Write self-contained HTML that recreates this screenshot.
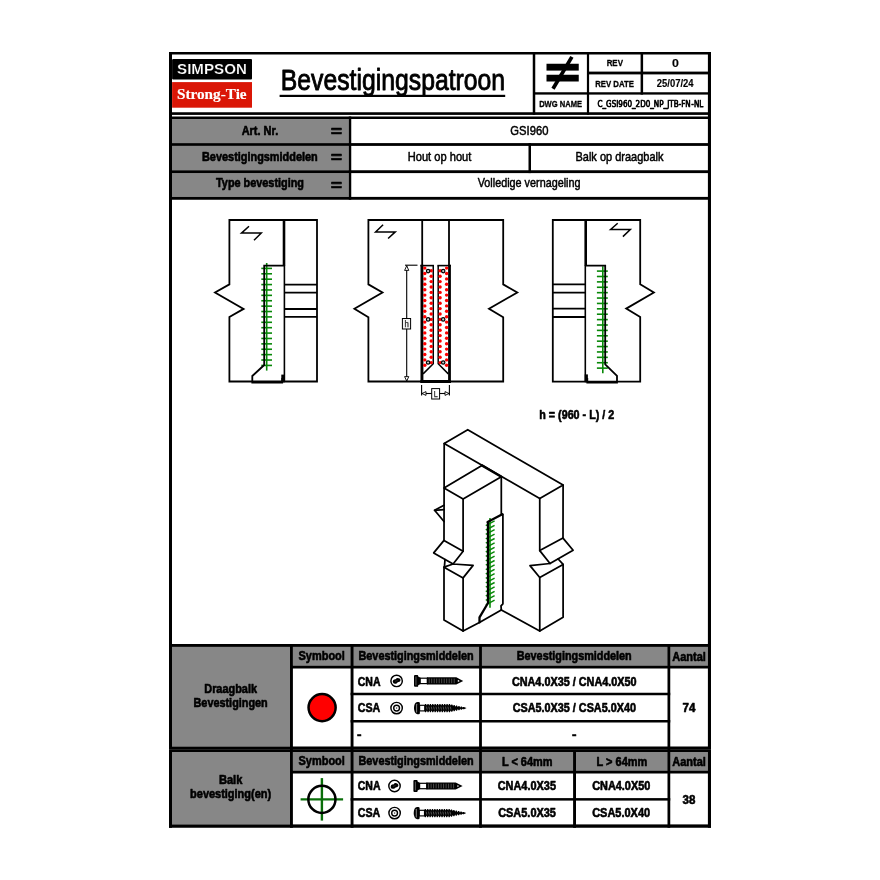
<!DOCTYPE html>
<html lang="nl"><head><meta charset="utf-8"><title>Bevestigingspatroon</title>
<style>html,body{margin:0;padding:0;background:#fff}svg{display:block}text{white-space:pre}</style>
</head><body>
<svg width="880" height="880" viewBox="0 0 880 880">
<defs><filter id="soft" color-interpolation-filters="sRGB" x="0" y="0" width="880" height="880" filterUnits="userSpaceOnUse"><feGaussianBlur stdDeviation="0.45"/></filter></defs>
<rect width="880" height="880" fill="#fff"/>
<g filter="url(#soft)">
<rect x="172.00" y="119.00" width="176.75" height="24.10" fill="#878787"/>
<rect x="172.00" y="146.00" width="176.75" height="24.25" fill="#878787"/>
<rect x="172.00" y="173.10" width="176.75" height="23.80" fill="#878787"/>
<rect x="172.00" y="646.90" width="118.00" height="99.60" fill="#878787"/>
<rect x="172.00" y="752.00" width="118.00" height="72.40" fill="#878787"/>
<rect x="292.90" y="646.90" width="415.00" height="18.70" fill="#878787"/>
<rect x="292.90" y="752.00" width="415.00" height="18.60" fill="#878787"/>
<rect x="169.00" y="52.00" width="542.00" height="2.50" fill="#000"/>
<rect x="169.00" y="52.00" width="3.00" height="775.75" fill="#000"/>
<rect x="707.90" y="52.00" width="3.10" height="775.75" fill="#000"/>
<rect x="169.00" y="824.40" width="542.00" height="3.35" fill="#000"/>
<rect x="169.00" y="112.25" width="542.00" height="2.65" fill="#000"/>
<rect x="169.00" y="116.50" width="542.00" height="2.50" fill="#000"/>
<rect x="169.00" y="143.10" width="542.00" height="2.80" fill="#000"/>
<rect x="169.00" y="170.25" width="542.00" height="2.85" fill="#000"/>
<rect x="169.00" y="196.90" width="542.00" height="2.85" fill="#000"/>
<rect x="532.75" y="52.00" width="2.50" height="62.90" fill="#000"/>
<rect x="586.90" y="52.00" width="2.20" height="62.90" fill="#000"/>
<rect x="640.60" y="52.00" width="2.50" height="42.60" fill="#000"/>
<rect x="589.00" y="71.60" width="122.00" height="2.80" fill="#000"/>
<rect x="535.00" y="92.25" width="176.00" height="2.35" fill="#000"/>
<rect x="348.75" y="116.50" width="2.50" height="83.25" fill="#000"/>
<rect x="528.50" y="143.10" width="2.50" height="30.00" fill="#000"/>
<rect x="169.00" y="644.00" width="542.00" height="2.90" fill="#000"/>
<rect x="290.00" y="665.60" width="421.00" height="2.90" fill="#000"/>
<rect x="350.60" y="692.75" width="319.65" height="2.50" fill="#000"/>
<rect x="350.60" y="720.00" width="319.65" height="2.50" fill="#000"/>
<rect x="169.00" y="746.50" width="542.00" height="5.50" fill="#000"/>
<rect x="169.00" y="749.00" width="542.00" height="0.60" fill="#3a3a3a"/>
<rect x="290.00" y="770.60" width="421.00" height="2.90" fill="#000"/>
<rect x="350.60" y="798.10" width="319.65" height="2.50" fill="#000"/>
<rect x="290.00" y="644.00" width="2.90" height="183.75" fill="#000"/>
<rect x="350.60" y="644.00" width="2.90" height="183.75" fill="#000"/>
<rect x="479.10" y="644.00" width="2.80" height="183.75" fill="#000"/>
<rect x="667.50" y="644.00" width="2.75" height="183.75" fill="#000"/>
<rect x="573.10" y="752.00" width="2.90" height="75.75" fill="#000"/>
<rect x="172.1" y="58.9" width="79.9" height="20.7" rx="1" fill="#000"/>
<rect x="172.10" y="82.10" width="79.90" height="25.60" fill="#da1606"/>
<text x="177.08" y="74.40" font-size="14.4" font-weight="bold" font-family="'Liberation Sans', sans-serif" fill="#fff" stroke="#000" stroke-width="0.2" stroke-linejoin="round" textLength="69.74" lengthAdjust="spacingAndGlyphs">SIMPSON</text>
<text x="176.96" y="99.00" font-size="14.6" font-weight="bold" font-family="'Liberation Serif', sans-serif" fill="#fff" stroke="#fff" stroke-width="0.15" stroke-linejoin="round" textLength="69.68" lengthAdjust="spacingAndGlyphs">Strong-Tie</text>
<text x="280.76" y="90.20" font-size="29.9" font-weight="normal" font-family="'Liberation Sans', sans-serif" fill="#000" stroke="#000" stroke-width="0.9" stroke-linejoin="round" textLength="224.39" lengthAdjust="spacingAndGlyphs">Bevestigingspatroon</text>
<rect x="279.60" y="94.80" width="225.60" height="2.20" fill="#000"/>
<rect x="546.50" y="63.75" width="32.25" height="6.85" fill="#000"/>
<rect x="546.50" y="74.75" width="32.25" height="6.75" fill="#000"/>
<line x1="571.90" y1="56.90" x2="553.00" y2="88.75" stroke="#000" stroke-width="3.7" stroke-linecap="butt"/>
<text x="606.65" y="66.30" font-size="9" font-weight="bold" font-family="'Liberation Sans', sans-serif" fill="#000" stroke="#000" stroke-width="0.3" stroke-linejoin="round" textLength="16.30" lengthAdjust="spacingAndGlyphs">REV</text>
<text x="595.15" y="87.20" font-size="9" font-weight="bold" font-family="'Liberation Sans', sans-serif" fill="#000" stroke="#000" stroke-width="0.3" stroke-linejoin="round" textLength="38.80" lengthAdjust="spacingAndGlyphs">REV DATE</text>
<text x="539.13" y="107.00" font-size="9" font-weight="bold" font-family="'Liberation Sans', sans-serif" fill="#000" stroke="#000" stroke-width="0.3" stroke-linejoin="round" textLength="42.94" lengthAdjust="spacingAndGlyphs">DWG NAME</text>
<text x="672.06" y="67.20" font-size="11" font-weight="bold" font-family="'Liberation Sans', sans-serif" fill="#000" stroke="#000" stroke-width="0.15" stroke-linejoin="round" textLength="6.88" lengthAdjust="spacingAndGlyphs">0</text>
<text x="656.81" y="87.20" font-size="11" font-weight="bold" font-family="'Liberation Sans', sans-serif" fill="#000" stroke="#000" stroke-width="0.15" stroke-linejoin="round" textLength="36.73" lengthAdjust="spacingAndGlyphs">25/07/24</text>
<text x="597.50" y="106.60" font-size="8.4" font-weight="normal" font-family="'DejaVu Sans', sans-serif" fill="#000" stroke="#000" stroke-width="0.7" stroke-linejoin="round" textLength="93.15" lengthAdjust="spacingAndGlyphs">C_GSI960_2D0_NP_JTB-FN</text>
<text x="691.32" y="107.30" font-size="9.2" font-weight="normal" font-family="'DejaVu Sans', sans-serif" fill="#000" stroke="#000" stroke-width="0.75" stroke-linejoin="round" textLength="11.95" lengthAdjust="spacingAndGlyphs">-NL</text>
<text x="241.65" y="135.40" font-size="12.3" font-weight="bold" font-family="'Liberation Sans', sans-serif" fill="#000" stroke="#000" stroke-width="0.6" stroke-linejoin="round" textLength="36.59" lengthAdjust="spacingAndGlyphs">Art. Nr.</text>
<text x="202.01" y="161.30" font-size="12.3" font-weight="bold" font-family="'Liberation Sans', sans-serif" fill="#000" stroke="#000" stroke-width="0.6" stroke-linejoin="round" textLength="115.73" lengthAdjust="spacingAndGlyphs">Bevestigingsmiddelen</text>
<text x="216.00" y="187.40" font-size="12.3" font-weight="bold" font-family="'Liberation Sans', sans-serif" fill="#000" stroke="#000" stroke-width="0.6" stroke-linejoin="round" textLength="87.99" lengthAdjust="spacingAndGlyphs">Type bevestiging</text>
<text x="330.69" y="136.60" font-size="17" font-weight="bold" font-family="'Liberation Sans', sans-serif" fill="#000" stroke="#000" stroke-width="0.6" stroke-linejoin="round" textLength="11.38" lengthAdjust="spacingAndGlyphs">=</text>
<text x="330.69" y="163.40" font-size="17" font-weight="bold" font-family="'Liberation Sans', sans-serif" fill="#000" stroke="#000" stroke-width="0.6" stroke-linejoin="round" textLength="11.38" lengthAdjust="spacingAndGlyphs">=</text>
<text x="330.69" y="190.70" font-size="17" font-weight="bold" font-family="'Liberation Sans', sans-serif" fill="#000" stroke="#000" stroke-width="0.6" stroke-linejoin="round" textLength="11.38" lengthAdjust="spacingAndGlyphs">=</text>
<text x="510.37" y="135.40" font-size="12.6" font-weight="normal" font-family="'Liberation Sans', sans-serif" fill="#000" stroke="#000" stroke-width="0.5" stroke-linejoin="round" textLength="38.01" lengthAdjust="spacingAndGlyphs">GSI960</text>
<text x="407.74" y="161.40" font-size="12.6" font-weight="normal" font-family="'Liberation Sans', sans-serif" fill="#000" stroke="#000" stroke-width="0.5" stroke-linejoin="round" textLength="63.61" lengthAdjust="spacingAndGlyphs">Hout op hout</text>
<text x="575.49" y="161.40" font-size="12.6" font-weight="normal" font-family="'Liberation Sans', sans-serif" fill="#000" stroke="#000" stroke-width="0.5" stroke-linejoin="round" textLength="87.96" lengthAdjust="spacingAndGlyphs">Balk op draagbalk</text>
<text x="477.75" y="187.40" font-size="12.6" font-weight="normal" font-family="'Liberation Sans', sans-serif" fill="#000" stroke="#000" stroke-width="0.5" stroke-linejoin="round" textLength="102.75" lengthAdjust="spacingAndGlyphs">Volledige vernageling</text>
<path d="M229.4,284.4 L229.4,220 L317,220 L317,381.5 L229.4,381.5 L229.4,317 L243.6,308.9 L215,292.5 Z" stroke="#000" stroke-width="1.8" fill="none" stroke-linejoin="miter"/>
<line x1="284.00" y1="219.20" x2="284.00" y2="265.60" stroke="#000" stroke-width="2.6" stroke-linecap="butt"/>
<line x1="284.40" y1="265.00" x2="284.40" y2="381.50" stroke="#000" stroke-width="1.6" stroke-linecap="butt"/>
<line x1="284.40" y1="284.60" x2="317.00" y2="284.60" stroke="#000" stroke-width="1.8" stroke-linecap="butt"/>
<line x1="284.40" y1="292.60" x2="317.00" y2="292.60" stroke="#000" stroke-width="1.8" stroke-linecap="butt"/>
<line x1="284.40" y1="309.00" x2="317.00" y2="309.00" stroke="#000" stroke-width="1.8" stroke-linecap="butt"/>
<line x1="284.40" y1="316.80" x2="317.00" y2="316.80" stroke="#000" stroke-width="1.8" stroke-linecap="butt"/>
<line x1="266.70" y1="263.00" x2="266.70" y2="370.60" stroke="#088808" stroke-width="1.6" stroke-linecap="butt"/>
<line x1="261.30" y1="268.40" x2="272.00" y2="268.40" stroke="#088808" stroke-width="1.6" stroke-linecap="butt"/>
<line x1="261.30" y1="273.79" x2="272.00" y2="273.79" stroke="#088808" stroke-width="1.6" stroke-linecap="butt"/>
<line x1="261.30" y1="279.18" x2="272.00" y2="279.18" stroke="#088808" stroke-width="1.6" stroke-linecap="butt"/>
<line x1="261.30" y1="284.57" x2="272.00" y2="284.57" stroke="#088808" stroke-width="1.6" stroke-linecap="butt"/>
<line x1="261.30" y1="289.96" x2="272.00" y2="289.96" stroke="#088808" stroke-width="1.6" stroke-linecap="butt"/>
<line x1="261.30" y1="295.35" x2="272.00" y2="295.35" stroke="#088808" stroke-width="1.6" stroke-linecap="butt"/>
<line x1="261.30" y1="300.74" x2="272.00" y2="300.74" stroke="#088808" stroke-width="1.6" stroke-linecap="butt"/>
<line x1="261.30" y1="306.13" x2="272.00" y2="306.13" stroke="#088808" stroke-width="1.6" stroke-linecap="butt"/>
<line x1="261.30" y1="311.52" x2="272.00" y2="311.52" stroke="#088808" stroke-width="1.6" stroke-linecap="butt"/>
<line x1="261.30" y1="316.91" x2="272.00" y2="316.91" stroke="#088808" stroke-width="1.6" stroke-linecap="butt"/>
<line x1="261.30" y1="322.30" x2="272.00" y2="322.30" stroke="#088808" stroke-width="1.6" stroke-linecap="butt"/>
<line x1="261.30" y1="327.69" x2="272.00" y2="327.69" stroke="#088808" stroke-width="1.6" stroke-linecap="butt"/>
<line x1="261.30" y1="333.08" x2="272.00" y2="333.08" stroke="#088808" stroke-width="1.6" stroke-linecap="butt"/>
<line x1="261.30" y1="338.47" x2="272.00" y2="338.47" stroke="#088808" stroke-width="1.6" stroke-linecap="butt"/>
<line x1="261.30" y1="343.86" x2="272.00" y2="343.86" stroke="#088808" stroke-width="1.6" stroke-linecap="butt"/>
<line x1="261.30" y1="349.25" x2="272.00" y2="349.25" stroke="#088808" stroke-width="1.6" stroke-linecap="butt"/>
<line x1="261.30" y1="354.64" x2="272.00" y2="354.64" stroke="#088808" stroke-width="1.6" stroke-linecap="butt"/>
<line x1="261.30" y1="360.03" x2="272.00" y2="360.03" stroke="#088808" stroke-width="1.6" stroke-linecap="butt"/>
<line x1="261.30" y1="365.42" x2="272.00" y2="365.42" stroke="#088808" stroke-width="1.6" stroke-linecap="butt"/>
<path d="M284.4,265.6 L264.2,265.6 L264.2,365 L252.3,376 L252.3,382.5 L282.2,382.5 L282.2,378" stroke="#000" stroke-width="1.8" fill="none" />
<rect x="281.30" y="374.60" width="3.60" height="7.70" fill="#000"/>
<path d="M249.00,226.25 L241.50,233.10 L261.25,233.10 L254.00,240.25" stroke="#000" stroke-width="1.5" fill="none" stroke-linejoin="miter"/>
<path d="M640.2,284.3 L640.2,220 L552.8,220 L552.8,381.6 L640.2,381.6 L640.2,317 L626.2,308.6 L653.9,292.5 Z" stroke="#000" stroke-width="1.8" fill="none" stroke-linejoin="miter"/>
<line x1="585.70" y1="219.20" x2="585.70" y2="265.60" stroke="#000" stroke-width="2.6" stroke-linecap="butt"/>
<line x1="585.30" y1="265.00" x2="585.30" y2="381.60" stroke="#000" stroke-width="1.6" stroke-linecap="butt"/>
<line x1="552.80" y1="284.40" x2="585.30" y2="284.40" stroke="#000" stroke-width="1.8" stroke-linecap="butt"/>
<line x1="552.80" y1="292.60" x2="585.30" y2="292.60" stroke="#000" stroke-width="1.8" stroke-linecap="butt"/>
<line x1="552.80" y1="308.60" x2="585.30" y2="308.60" stroke="#000" stroke-width="1.8" stroke-linecap="butt"/>
<line x1="552.80" y1="317.00" x2="585.30" y2="317.00" stroke="#000" stroke-width="1.8" stroke-linecap="butt"/>
<line x1="602.80" y1="266.20" x2="602.80" y2="373.20" stroke="#088808" stroke-width="1.6" stroke-linecap="butt"/>
<line x1="596.90" y1="271.10" x2="607.80" y2="271.10" stroke="#088808" stroke-width="1.6" stroke-linecap="butt"/>
<line x1="596.90" y1="276.49" x2="607.80" y2="276.49" stroke="#088808" stroke-width="1.6" stroke-linecap="butt"/>
<line x1="596.90" y1="281.88" x2="607.80" y2="281.88" stroke="#088808" stroke-width="1.6" stroke-linecap="butt"/>
<line x1="596.90" y1="287.27" x2="607.80" y2="287.27" stroke="#088808" stroke-width="1.6" stroke-linecap="butt"/>
<line x1="596.90" y1="292.66" x2="607.80" y2="292.66" stroke="#088808" stroke-width="1.6" stroke-linecap="butt"/>
<line x1="596.90" y1="298.05" x2="607.80" y2="298.05" stroke="#088808" stroke-width="1.6" stroke-linecap="butt"/>
<line x1="596.90" y1="303.44" x2="607.80" y2="303.44" stroke="#088808" stroke-width="1.6" stroke-linecap="butt"/>
<line x1="596.90" y1="308.83" x2="607.80" y2="308.83" stroke="#088808" stroke-width="1.6" stroke-linecap="butt"/>
<line x1="596.90" y1="314.22" x2="607.80" y2="314.22" stroke="#088808" stroke-width="1.6" stroke-linecap="butt"/>
<line x1="596.90" y1="319.61" x2="607.80" y2="319.61" stroke="#088808" stroke-width="1.6" stroke-linecap="butt"/>
<line x1="596.90" y1="325.00" x2="607.80" y2="325.00" stroke="#088808" stroke-width="1.6" stroke-linecap="butt"/>
<line x1="596.90" y1="330.39" x2="607.80" y2="330.39" stroke="#088808" stroke-width="1.6" stroke-linecap="butt"/>
<line x1="596.90" y1="335.78" x2="607.80" y2="335.78" stroke="#088808" stroke-width="1.6" stroke-linecap="butt"/>
<line x1="596.90" y1="341.17" x2="607.80" y2="341.17" stroke="#088808" stroke-width="1.6" stroke-linecap="butt"/>
<line x1="596.90" y1="346.56" x2="607.80" y2="346.56" stroke="#088808" stroke-width="1.6" stroke-linecap="butt"/>
<line x1="596.90" y1="351.95" x2="607.80" y2="351.95" stroke="#088808" stroke-width="1.6" stroke-linecap="butt"/>
<line x1="596.90" y1="357.34" x2="607.80" y2="357.34" stroke="#088808" stroke-width="1.6" stroke-linecap="butt"/>
<line x1="596.90" y1="362.73" x2="607.80" y2="362.73" stroke="#088808" stroke-width="1.6" stroke-linecap="butt"/>
<line x1="596.90" y1="368.12" x2="607.80" y2="368.12" stroke="#088808" stroke-width="1.6" stroke-linecap="butt"/>
<path d="M585.3,265.7 L605.2,265.7 L605.2,364.3 L617,375.9 L617,382.7 L587.3,382.7 L587.3,378" stroke="#000" stroke-width="1.8" fill="none" />
<rect x="584.70" y="374.40" width="3.20" height="7.90" fill="#000"/>
<path d="M617.70,223.20 L610.60,229.50 L630.30,229.50 L622.90,236.60" stroke="#000" stroke-width="1.5" fill="none" stroke-linejoin="miter"/>
<path d="M368.4,284.4 L368.4,220 L503.2,220 L503.2,284.4 L517.3,292.5 L489,308.75 L503.2,317.2 L503.2,381.5 L368.4,381.5 L368.4,317.2 L354.4,308.75 L382.5,292.5 Z" stroke="#000" stroke-width="1.8" fill="none" stroke-linejoin="miter"/>
<line x1="422.20" y1="220.00" x2="422.20" y2="265.00" stroke="#000" stroke-width="1.8" stroke-linecap="butt"/>
<line x1="449.00" y1="220.00" x2="449.00" y2="265.00" stroke="#000" stroke-width="1.8" stroke-linecap="butt"/>
<path d="M383.10,224.75 L375.60,231.90 L395.25,231.90 L388.10,238.50" stroke="#000" stroke-width="1.5" fill="none" stroke-linejoin="miter"/>
<rect x="420.50" y="264.80" width="2.90" height="118.00" fill="#000"/>
<rect x="448.10" y="264.80" width="2.80" height="118.00" fill="#000"/>
<rect x="420.40" y="380.00" width="30.60" height="3.00" fill="#000"/>
<line x1="420.40" y1="265.60" x2="434.00" y2="265.60" stroke="#000" stroke-width="1.6" stroke-linecap="butt"/>
<line x1="437.40" y1="265.60" x2="451.00" y2="265.60" stroke="#000" stroke-width="1.6" stroke-linecap="butt"/>
<path d="M433.25,265.6 L433.25,363.75 L423.1,373.9" stroke="#000" stroke-width="1.5" fill="none" />
<path d="M438.2,265.6 L438.2,363.75 L448.3,373.9" stroke="#000" stroke-width="1.5" fill="none" />
<circle cx="424.80" cy="268.10" r="1.70" fill="#ff0000" stroke="none" stroke-width="1"/>
<circle cx="446.60" cy="268.10" r="1.70" fill="#ff0000" stroke="none" stroke-width="1"/>
<circle cx="424.80" cy="273.50" r="1.70" fill="#ff0000" stroke="none" stroke-width="1"/>
<circle cx="446.60" cy="273.50" r="1.70" fill="#ff0000" stroke="none" stroke-width="1"/>
<circle cx="424.80" cy="278.90" r="1.70" fill="#ff0000" stroke="none" stroke-width="1"/>
<circle cx="446.60" cy="278.90" r="1.70" fill="#ff0000" stroke="none" stroke-width="1"/>
<circle cx="424.80" cy="284.30" r="1.70" fill="#ff0000" stroke="none" stroke-width="1"/>
<circle cx="446.60" cy="284.30" r="1.70" fill="#ff0000" stroke="none" stroke-width="1"/>
<circle cx="424.80" cy="289.70" r="1.70" fill="#ff0000" stroke="none" stroke-width="1"/>
<circle cx="446.60" cy="289.70" r="1.70" fill="#ff0000" stroke="none" stroke-width="1"/>
<circle cx="424.80" cy="295.10" r="1.70" fill="#ff0000" stroke="none" stroke-width="1"/>
<circle cx="446.60" cy="295.10" r="1.70" fill="#ff0000" stroke="none" stroke-width="1"/>
<circle cx="424.80" cy="300.50" r="1.70" fill="#ff0000" stroke="none" stroke-width="1"/>
<circle cx="446.60" cy="300.50" r="1.70" fill="#ff0000" stroke="none" stroke-width="1"/>
<circle cx="424.80" cy="305.90" r="1.70" fill="#ff0000" stroke="none" stroke-width="1"/>
<circle cx="446.60" cy="305.90" r="1.70" fill="#ff0000" stroke="none" stroke-width="1"/>
<circle cx="424.80" cy="311.30" r="1.70" fill="#ff0000" stroke="none" stroke-width="1"/>
<circle cx="446.60" cy="311.30" r="1.70" fill="#ff0000" stroke="none" stroke-width="1"/>
<circle cx="424.80" cy="316.70" r="1.70" fill="#ff0000" stroke="none" stroke-width="1"/>
<circle cx="446.60" cy="316.70" r="1.70" fill="#ff0000" stroke="none" stroke-width="1"/>
<circle cx="424.80" cy="322.10" r="1.70" fill="#ff0000" stroke="none" stroke-width="1"/>
<circle cx="446.60" cy="322.10" r="1.70" fill="#ff0000" stroke="none" stroke-width="1"/>
<circle cx="424.80" cy="327.50" r="1.70" fill="#ff0000" stroke="none" stroke-width="1"/>
<circle cx="446.60" cy="327.50" r="1.70" fill="#ff0000" stroke="none" stroke-width="1"/>
<circle cx="424.80" cy="332.90" r="1.70" fill="#ff0000" stroke="none" stroke-width="1"/>
<circle cx="446.60" cy="332.90" r="1.70" fill="#ff0000" stroke="none" stroke-width="1"/>
<circle cx="424.80" cy="338.30" r="1.70" fill="#ff0000" stroke="none" stroke-width="1"/>
<circle cx="446.60" cy="338.30" r="1.70" fill="#ff0000" stroke="none" stroke-width="1"/>
<circle cx="424.80" cy="343.70" r="1.70" fill="#ff0000" stroke="none" stroke-width="1"/>
<circle cx="446.60" cy="343.70" r="1.70" fill="#ff0000" stroke="none" stroke-width="1"/>
<circle cx="424.80" cy="349.10" r="1.70" fill="#ff0000" stroke="none" stroke-width="1"/>
<circle cx="446.60" cy="349.10" r="1.70" fill="#ff0000" stroke="none" stroke-width="1"/>
<circle cx="424.80" cy="354.50" r="1.70" fill="#ff0000" stroke="none" stroke-width="1"/>
<circle cx="446.60" cy="354.50" r="1.70" fill="#ff0000" stroke="none" stroke-width="1"/>
<circle cx="424.80" cy="359.90" r="1.70" fill="#ff0000" stroke="none" stroke-width="1"/>
<circle cx="446.60" cy="359.90" r="1.70" fill="#ff0000" stroke="none" stroke-width="1"/>
<circle cx="424.80" cy="365.30" r="1.70" fill="#ff0000" stroke="none" stroke-width="1"/>
<circle cx="446.60" cy="365.30" r="1.70" fill="#ff0000" stroke="none" stroke-width="1"/>
<circle cx="431.20" cy="270.80" r="1.70" fill="#ff0000" stroke="none" stroke-width="1"/>
<circle cx="440.10" cy="270.80" r="1.70" fill="#ff0000" stroke="none" stroke-width="1"/>
<circle cx="431.20" cy="276.20" r="1.70" fill="#ff0000" stroke="none" stroke-width="1"/>
<circle cx="440.10" cy="276.20" r="1.70" fill="#ff0000" stroke="none" stroke-width="1"/>
<circle cx="431.20" cy="281.60" r="1.70" fill="#ff0000" stroke="none" stroke-width="1"/>
<circle cx="440.10" cy="281.60" r="1.70" fill="#ff0000" stroke="none" stroke-width="1"/>
<circle cx="431.20" cy="287.00" r="1.70" fill="#ff0000" stroke="none" stroke-width="1"/>
<circle cx="440.10" cy="287.00" r="1.70" fill="#ff0000" stroke="none" stroke-width="1"/>
<circle cx="431.20" cy="292.40" r="1.70" fill="#ff0000" stroke="none" stroke-width="1"/>
<circle cx="440.10" cy="292.40" r="1.70" fill="#ff0000" stroke="none" stroke-width="1"/>
<circle cx="431.20" cy="297.80" r="1.70" fill="#ff0000" stroke="none" stroke-width="1"/>
<circle cx="440.10" cy="297.80" r="1.70" fill="#ff0000" stroke="none" stroke-width="1"/>
<circle cx="431.20" cy="303.20" r="1.70" fill="#ff0000" stroke="none" stroke-width="1"/>
<circle cx="440.10" cy="303.20" r="1.70" fill="#ff0000" stroke="none" stroke-width="1"/>
<circle cx="431.20" cy="308.60" r="1.70" fill="#ff0000" stroke="none" stroke-width="1"/>
<circle cx="440.10" cy="308.60" r="1.70" fill="#ff0000" stroke="none" stroke-width="1"/>
<circle cx="431.20" cy="314.00" r="1.70" fill="#ff0000" stroke="none" stroke-width="1"/>
<circle cx="440.10" cy="314.00" r="1.70" fill="#ff0000" stroke="none" stroke-width="1"/>
<circle cx="431.20" cy="319.40" r="1.70" fill="#ff0000" stroke="none" stroke-width="1"/>
<circle cx="440.10" cy="319.40" r="1.70" fill="#ff0000" stroke="none" stroke-width="1"/>
<circle cx="431.20" cy="324.80" r="1.70" fill="#ff0000" stroke="none" stroke-width="1"/>
<circle cx="440.10" cy="324.80" r="1.70" fill="#ff0000" stroke="none" stroke-width="1"/>
<circle cx="431.20" cy="330.20" r="1.70" fill="#ff0000" stroke="none" stroke-width="1"/>
<circle cx="440.10" cy="330.20" r="1.70" fill="#ff0000" stroke="none" stroke-width="1"/>
<circle cx="431.20" cy="335.60" r="1.70" fill="#ff0000" stroke="none" stroke-width="1"/>
<circle cx="440.10" cy="335.60" r="1.70" fill="#ff0000" stroke="none" stroke-width="1"/>
<circle cx="431.20" cy="341.00" r="1.70" fill="#ff0000" stroke="none" stroke-width="1"/>
<circle cx="440.10" cy="341.00" r="1.70" fill="#ff0000" stroke="none" stroke-width="1"/>
<circle cx="431.20" cy="346.40" r="1.70" fill="#ff0000" stroke="none" stroke-width="1"/>
<circle cx="440.10" cy="346.40" r="1.70" fill="#ff0000" stroke="none" stroke-width="1"/>
<circle cx="431.20" cy="351.80" r="1.70" fill="#ff0000" stroke="none" stroke-width="1"/>
<circle cx="440.10" cy="351.80" r="1.70" fill="#ff0000" stroke="none" stroke-width="1"/>
<circle cx="431.20" cy="357.20" r="1.70" fill="#ff0000" stroke="none" stroke-width="1"/>
<circle cx="440.10" cy="357.20" r="1.70" fill="#ff0000" stroke="none" stroke-width="1"/>
<circle cx="431.20" cy="362.60" r="1.70" fill="#ff0000" stroke="none" stroke-width="1"/>
<circle cx="440.10" cy="362.60" r="1.70" fill="#ff0000" stroke="none" stroke-width="1"/>
<circle cx="428.10" cy="271.10" r="1.70" fill="#ccc" stroke="#000" stroke-width="1.2"/>
<circle cx="443.20" cy="271.10" r="1.70" fill="#ccc" stroke="#000" stroke-width="1.2"/>
<circle cx="428.10" cy="319.40" r="1.70" fill="#ccc" stroke="#000" stroke-width="1.2"/>
<circle cx="443.20" cy="319.40" r="1.70" fill="#ccc" stroke="#000" stroke-width="1.2"/>
<circle cx="428.10" cy="362.50" r="1.70" fill="#ccc" stroke="#000" stroke-width="1.2"/>
<circle cx="443.20" cy="362.50" r="1.70" fill="#ccc" stroke="#000" stroke-width="1.2"/>
<line x1="405.00" y1="265.20" x2="417.50" y2="265.20" stroke="#000" stroke-width="1.1" stroke-linecap="butt"/>
<line x1="406.70" y1="265.50" x2="406.70" y2="381.00" stroke="#000" stroke-width="1.1" stroke-linecap="butt"/>
<path d="M406.7,265.8 L404.6,270.4 L408.8,270.4 Z" stroke="#000" stroke-width="0.9" fill="#fff" />
<path d="M406.7,381 L404.6,376.6 L408.8,376.6 Z" stroke="#000" stroke-width="0.9" fill="#fff" />
<rect x="402.4" y="318.5" width="8.2" height="10.5" fill="#f2f2f2" stroke="#000" stroke-width="1"/>
<text x="404.43" y="327.30" font-size="8.5" font-weight="normal" font-family="'Liberation Sans', sans-serif" fill="#222" stroke="#222" stroke-width="0.25" stroke-linejoin="round" textLength="4.34" lengthAdjust="spacingAndGlyphs">h</text>
<line x1="421.60" y1="385.00" x2="421.60" y2="395.60" stroke="#000" stroke-width="1.1" stroke-linecap="butt"/>
<line x1="449.40" y1="385.00" x2="449.40" y2="395.60" stroke="#000" stroke-width="1.1" stroke-linecap="butt"/>
<line x1="421.60" y1="393.50" x2="449.40" y2="393.50" stroke="#000" stroke-width="1.1" stroke-linecap="butt"/>
<path d="M422,393.5 L426,391.6 L426,395.4 Z" stroke="#000" stroke-width="0.9" fill="#fff" />
<path d="M449,393.5 L445,391.6 L445,395.4 Z" stroke="#000" stroke-width="0.9" fill="#fff" />
<rect x="431.7" y="388.6" width="7.9" height="10.4" fill="#fff" stroke="#000" stroke-width="1"/>
<text x="433.73" y="397.30" font-size="8.5" font-weight="normal" font-family="'Liberation Sans', sans-serif" fill="#222" stroke="#222" stroke-width="0.25" stroke-linejoin="round" textLength="4.04" lengthAdjust="spacingAndGlyphs">L</text>
<text x="539.25" y="418.50" font-size="12.5" font-weight="bold" font-family="'Liberation Sans', sans-serif" fill="#000" stroke="#000" stroke-width="0.6" stroke-linejoin="round" textLength="75.00" lengthAdjust="spacingAndGlyphs">h = (960 - L) / 2</text>
<path d="M444.20,443.50 L467.75,429.75 L563.10,485.10 L539.75,498.50 L444.20,443.50" stroke="#000" stroke-width="1.75" fill="none" stroke-linejoin="round" stroke-linecap="round"/>
<path d="M444.20,443.50 L444.00,540.40" stroke="#000" stroke-width="1.75" fill="none" stroke-linejoin="round" stroke-linecap="round"/>
<path d="M539.75,498.50 L539.75,550.60" stroke="#000" stroke-width="1.75" fill="none" stroke-linejoin="round" stroke-linecap="round"/>
<path d="M563.10,485.10 L563.00,538.10" stroke="#000" stroke-width="1.75" fill="none" stroke-linejoin="round" stroke-linecap="round"/>
<path d="M481.90,465.40 L444.00,488.10 L463.10,498.90 L501.30,476.80" stroke="#000" stroke-width="1.75" fill="none" stroke-linejoin="round" stroke-linecap="round"/>
<path d="M481.90,465.40 L501.30,476.80" stroke="#000" stroke-width="2.4" fill="none" stroke-linejoin="round" stroke-linecap="round"/>
<path d="M463.10,498.90 L463.10,551.20" stroke="#000" stroke-width="1.75" fill="none" stroke-linejoin="round" stroke-linecap="round"/>
<path d="M501.30,476.80 L501.30,514.00" stroke="#000" stroke-width="1.75" fill="none" stroke-linejoin="round" stroke-linecap="round"/>
<path d="M444.00,505.30 L434.60,510.30 L444.00,521.50" stroke="#000" stroke-width="1.75" fill="none" stroke-linejoin="round" stroke-linecap="round"/>
<path d="M434.60,510.30 L444.00,509.60" stroke="#000" stroke-width="1.75" fill="none" stroke-linejoin="round" stroke-linecap="round"/>
<path d="M444.00,540.40 L433.70,552.90 L453.10,564.00 L463.10,551.20 Z" stroke="#000" stroke-width="1.75" fill="none" stroke-linejoin="round" stroke-linecap="round"/>
<path d="M453.10,564.00 L473.10,565.40 L463.10,577.90 L444.00,567.20 L453.10,564.00" stroke="#000" stroke-width="1.75" fill="none" stroke-linejoin="round" stroke-linecap="round"/>
<path d="M445.00,559.60 L444.40,567.00" stroke="#000" stroke-width="1.75" fill="none" stroke-linejoin="round" stroke-linecap="round"/>
<path d="M444.00,567.20 L444.00,620.00 L463.10,631.00 L463.10,577.90" stroke="#000" stroke-width="1.75" fill="none" stroke-linejoin="round" stroke-linecap="round"/>
<path d="M463.10,631.00 L479.40,622.40 L501.30,610.00" stroke="#000" stroke-width="1.75" fill="none" stroke-linejoin="round" stroke-linecap="round"/>
<path d="M501.30,610.00 L539.75,631.00 L563.10,617.20 L563.10,564.40" stroke="#000" stroke-width="1.75" fill="none" stroke-linejoin="round" stroke-linecap="round"/>
<path d="M539.75,631.00 L539.75,577.50" stroke="#000" stroke-width="1.75" fill="none" stroke-linejoin="round" stroke-linecap="round"/>
<path d="M563.00,538.10 L539.75,550.60 L550.00,563.50 L573.10,550.30 Z" stroke="#000" stroke-width="1.75" fill="none" stroke-linejoin="round" stroke-linecap="round"/>
<path d="M550.00,563.50 L530.00,565.60 L539.75,577.50 L563.10,564.40 L558.20,559.00" stroke="#000" stroke-width="1.75" fill="none" stroke-linejoin="round" stroke-linecap="round"/>
<line x1="490.00" y1="518.00" x2="490.00" y2="607.80" stroke="#088808" stroke-width="1.6" stroke-linecap="butt"/>
<line x1="485.80" y1="525.60" x2="494.60" y2="520.90" stroke="#088808" stroke-width="1.5" stroke-linecap="butt"/>
<line x1="485.80" y1="530.00" x2="494.60" y2="525.30" stroke="#088808" stroke-width="1.5" stroke-linecap="butt"/>
<line x1="485.80" y1="534.40" x2="494.60" y2="529.70" stroke="#088808" stroke-width="1.5" stroke-linecap="butt"/>
<line x1="485.80" y1="538.80" x2="494.60" y2="534.10" stroke="#088808" stroke-width="1.5" stroke-linecap="butt"/>
<line x1="485.80" y1="543.20" x2="494.60" y2="538.50" stroke="#088808" stroke-width="1.5" stroke-linecap="butt"/>
<line x1="485.80" y1="547.60" x2="494.60" y2="542.90" stroke="#088808" stroke-width="1.5" stroke-linecap="butt"/>
<line x1="485.80" y1="552.00" x2="494.60" y2="547.30" stroke="#088808" stroke-width="1.5" stroke-linecap="butt"/>
<line x1="485.80" y1="556.40" x2="494.60" y2="551.70" stroke="#088808" stroke-width="1.5" stroke-linecap="butt"/>
<line x1="485.80" y1="560.80" x2="494.60" y2="556.10" stroke="#088808" stroke-width="1.5" stroke-linecap="butt"/>
<line x1="485.80" y1="565.20" x2="494.60" y2="560.50" stroke="#088808" stroke-width="1.5" stroke-linecap="butt"/>
<line x1="485.80" y1="569.60" x2="494.60" y2="564.90" stroke="#088808" stroke-width="1.5" stroke-linecap="butt"/>
<line x1="485.80" y1="574.00" x2="494.60" y2="569.30" stroke="#088808" stroke-width="1.5" stroke-linecap="butt"/>
<line x1="485.80" y1="578.40" x2="494.60" y2="573.70" stroke="#088808" stroke-width="1.5" stroke-linecap="butt"/>
<line x1="485.80" y1="582.80" x2="494.60" y2="578.10" stroke="#088808" stroke-width="1.5" stroke-linecap="butt"/>
<line x1="485.80" y1="587.20" x2="494.60" y2="582.50" stroke="#088808" stroke-width="1.5" stroke-linecap="butt"/>
<line x1="485.80" y1="591.60" x2="494.60" y2="586.90" stroke="#088808" stroke-width="1.5" stroke-linecap="butt"/>
<line x1="485.80" y1="596.00" x2="494.60" y2="591.30" stroke="#088808" stroke-width="1.5" stroke-linecap="butt"/>
<line x1="485.80" y1="600.40" x2="494.60" y2="595.70" stroke="#088808" stroke-width="1.5" stroke-linecap="butt"/>
<line x1="485.80" y1="604.80" x2="494.60" y2="600.10" stroke="#088808" stroke-width="1.5" stroke-linecap="butt"/>
<path d="M487.60,522.10 L502.30,514.30" stroke="#000" stroke-width="2.3" fill="none" stroke-linejoin="round" stroke-linecap="round"/>
<path d="M488.00,522.10 L488.00,603.00 L479.50,617.40 L479.50,622.40" stroke="#000" stroke-width="2.3" fill="none" stroke-linejoin="round" stroke-linecap="round"/>
<path d="M502.90,514.30 L502.90,603.80 L501.00,605.80 L501.30,610.00" stroke="#000" stroke-width="1.75" fill="none" stroke-linejoin="round" stroke-linecap="round"/>
<text x="204.26" y="693.10" font-size="12.3" font-weight="bold" font-family="'Liberation Sans', sans-serif" fill="#000" stroke="#000" stroke-width="0.6" stroke-linejoin="round" textLength="52.73" lengthAdjust="spacingAndGlyphs">Draagbalk</text>
<text x="193.51" y="707.25" font-size="12.3" font-weight="bold" font-family="'Liberation Sans', sans-serif" fill="#000" stroke="#000" stroke-width="0.6" stroke-linejoin="round" textLength="74.23" lengthAdjust="spacingAndGlyphs">Bevestigingen</text>
<text x="218.91" y="784.40" font-size="12.3" font-weight="bold" font-family="'Liberation Sans', sans-serif" fill="#000" stroke="#000" stroke-width="0.6" stroke-linejoin="round" textLength="23.48" lengthAdjust="spacingAndGlyphs">Balk</text>
<text x="190.11" y="798.40" font-size="12.3" font-weight="bold" font-family="'Liberation Sans', sans-serif" fill="#000" stroke="#000" stroke-width="0.6" stroke-linejoin="round" textLength="80.98" lengthAdjust="spacingAndGlyphs">bevestiging(en)</text>
<text x="298.51" y="659.50" font-size="12.3" font-weight="bold" font-family="'Liberation Sans', sans-serif" fill="#000" stroke="#000" stroke-width="0.6" stroke-linejoin="round" textLength="46.38" lengthAdjust="spacingAndGlyphs">Symbool</text>
<text x="358.51" y="659.50" font-size="12.3" font-weight="bold" font-family="'Liberation Sans', sans-serif" fill="#000" stroke="#000" stroke-width="0.6" stroke-linejoin="round" textLength="115.08" lengthAdjust="spacingAndGlyphs">Bevestigingsmiddelen</text>
<text x="298.51" y="764.50" font-size="12.3" font-weight="bold" font-family="'Liberation Sans', sans-serif" fill="#000" stroke="#000" stroke-width="0.6" stroke-linejoin="round" textLength="46.38" lengthAdjust="spacingAndGlyphs">Symbool</text>
<text x="358.51" y="764.50" font-size="12.3" font-weight="bold" font-family="'Liberation Sans', sans-serif" fill="#000" stroke="#000" stroke-width="0.6" stroke-linejoin="round" textLength="115.08" lengthAdjust="spacingAndGlyphs">Bevestigingsmiddelen</text>
<text x="516.76" y="659.60" font-size="12.3" font-weight="bold" font-family="'Liberation Sans', sans-serif" fill="#000" stroke="#000" stroke-width="0.6" stroke-linejoin="round" textLength="114.98" lengthAdjust="spacingAndGlyphs">Bevestigingsmiddelen</text>
<text x="672.25" y="660.60" font-size="12.3" font-weight="bold" font-family="'Liberation Sans', sans-serif" fill="#000" stroke="#000" stroke-width="0.6" stroke-linejoin="round" textLength="33.59" lengthAdjust="spacingAndGlyphs">Aantal</text>
<text x="672.25" y="766.20" font-size="12.3" font-weight="bold" font-family="'Liberation Sans', sans-serif" fill="#000" stroke="#000" stroke-width="0.6" stroke-linejoin="round" textLength="33.59" lengthAdjust="spacingAndGlyphs">Aantal</text>
<text x="501.88" y="766.20" font-size="12.3" font-weight="bold" font-family="'Liberation Sans', sans-serif" fill="#000" stroke="#000" stroke-width="0.6" stroke-linejoin="round" textLength="50.63" lengthAdjust="spacingAndGlyphs">L &lt; 64mm</text>
<text x="596.59" y="766.20" font-size="12.3" font-weight="bold" font-family="'Liberation Sans', sans-serif" fill="#000" stroke="#000" stroke-width="0.6" stroke-linejoin="round" textLength="50.63" lengthAdjust="spacingAndGlyphs">L &gt; 64mm</text>
<text x="357.73" y="685.60" font-size="12.3" font-weight="bold" font-family="'Liberation Sans', sans-serif" fill="#000" stroke="#000" stroke-width="0.6" stroke-linejoin="round" textLength="22.84" lengthAdjust="spacingAndGlyphs">CNA</text>
<text x="357.73" y="790.00" font-size="12.3" font-weight="bold" font-family="'Liberation Sans', sans-serif" fill="#000" stroke="#000" stroke-width="0.6" stroke-linejoin="round" textLength="22.84" lengthAdjust="spacingAndGlyphs">CNA</text>
<text x="357.73" y="711.90" font-size="12.3" font-weight="bold" font-family="'Liberation Sans', sans-serif" fill="#000" stroke="#000" stroke-width="0.6" stroke-linejoin="round" textLength="22.54" lengthAdjust="spacingAndGlyphs">CSA</text>
<text x="357.73" y="817.00" font-size="12.3" font-weight="bold" font-family="'Liberation Sans', sans-serif" fill="#000" stroke="#000" stroke-width="0.6" stroke-linejoin="round" textLength="22.54" lengthAdjust="spacingAndGlyphs">CSA</text>
<text x="511.88" y="685.60" font-size="12.3" font-weight="bold" font-family="'Liberation Sans', sans-serif" fill="#000" stroke="#000" stroke-width="0.6" stroke-linejoin="round" textLength="124.74" lengthAdjust="spacingAndGlyphs">CNA4.0X35 / CNA4.0X50</text>
<text x="512.73" y="711.90" font-size="12.3" font-weight="bold" font-family="'Liberation Sans', sans-serif" fill="#000" stroke="#000" stroke-width="0.6" stroke-linejoin="round" textLength="123.24" lengthAdjust="spacingAndGlyphs">CSA5.0X35 / CSA5.0X40</text>
<text x="357.13" y="738.60" font-size="12.3" font-weight="bold" font-family="'Liberation Sans', sans-serif" fill="#000" stroke="#000" stroke-width="0.6" stroke-linejoin="round" textLength="4.49" lengthAdjust="spacingAndGlyphs">-</text>
<text x="572.13" y="738.60" font-size="12.3" font-weight="bold" font-family="'Liberation Sans', sans-serif" fill="#000" stroke="#000" stroke-width="0.6" stroke-linejoin="round" textLength="4.49" lengthAdjust="spacingAndGlyphs">-</text>
<text x="682.53" y="711.90" font-size="12.3" font-weight="bold" font-family="'Liberation Sans', sans-serif" fill="#000" stroke="#000" stroke-width="0.6" stroke-linejoin="round" textLength="12.84" lengthAdjust="spacingAndGlyphs">74</text>
<text x="682.53" y="803.50" font-size="12.3" font-weight="bold" font-family="'Liberation Sans', sans-serif" fill="#000" stroke="#000" stroke-width="0.6" stroke-linejoin="round" textLength="12.84" lengthAdjust="spacingAndGlyphs">38</text>
<text x="497.73" y="790.00" font-size="12.3" font-weight="bold" font-family="'Liberation Sans', sans-serif" fill="#000" stroke="#000" stroke-width="0.6" stroke-linejoin="round" textLength="58.24" lengthAdjust="spacingAndGlyphs">CNA4.0X35</text>
<text x="498.13" y="817.20" font-size="12.3" font-weight="bold" font-family="'Liberation Sans', sans-serif" fill="#000" stroke="#000" stroke-width="0.6" stroke-linejoin="round" textLength="57.84" lengthAdjust="spacingAndGlyphs">CSA5.0X35</text>
<text x="592.13" y="790.00" font-size="12.3" font-weight="bold" font-family="'Liberation Sans', sans-serif" fill="#000" stroke="#000" stroke-width="0.6" stroke-linejoin="round" textLength="58.24" lengthAdjust="spacingAndGlyphs">CNA4.0X50</text>
<text x="592.13" y="817.20" font-size="12.3" font-weight="bold" font-family="'Liberation Sans', sans-serif" fill="#000" stroke="#000" stroke-width="0.6" stroke-linejoin="round" textLength="57.99" lengthAdjust="spacingAndGlyphs">CSA5.0X40</text>
<circle cx="322.10" cy="707.60" r="13.55" fill="#ff0000" stroke="#000" stroke-width="2.5"/>
<line x1="300.60" y1="799.40" x2="343.10" y2="799.40" stroke="#0a6e0a" stroke-width="2.4" stroke-linecap="butt"/>
<line x1="321.90" y1="778.10" x2="321.90" y2="820.60" stroke="#0a6e0a" stroke-width="2.4" stroke-linecap="butt"/>
<circle cx="321.90" cy="799.40" r="13.55" fill="none" stroke="#000" stroke-width="2.5"/>
<circle cx="396.60" cy="680.90" r="5.70" fill="#fff" stroke="#000" stroke-width="1.45"/>
<path d="M392.70,681.80 q0,-2.8 2.9,-2.5 q1.5,-2.2 4,-0.7 q1.9,1.6 -0.1,3.2 q-2,0.2 -2.9,1.6 q-3.3,1.2 -3.9,-1.6 z" fill="#000"/>
<path d="M395.00,681.40 l2.6,-1.0" stroke="#555" stroke-width="0.5" fill="none"/>
<path d="M415.00,675.00 L417.40,675.00 Q418.20,675.00 418.20,675.90 L418.20,676.50 L420.60,677.80 L420.60,684.00 L418.20,685.30 L418.20,685.90 Q418.20,686.80 417.40,686.80 L415.00,686.80 Q414.00,686.80 414.00,685.80 L414.00,676.00 Q414.00,675.00 415.00,675.00 Z" fill="#000"/>
<rect x="415.50" y="676.50" width="0.9" height="8.8" fill="#666"/>
<rect x="420.20" y="678.20" width="7.2" height="5.4" fill="#fff" stroke="#000" stroke-width="1.2"/>
<path d="M426.90,677.30 L456.30,677.30 L463.20,680.90 L456.30,684.50 L426.90,684.50 Z" fill="#000"/>
<line x1="429.20" y1="678.60" x2="429.20" y2="683.20" stroke="#666" stroke-width="0.75"/>
<line x1="431.70" y1="678.60" x2="431.70" y2="683.20" stroke="#666" stroke-width="0.75"/>
<line x1="434.20" y1="678.60" x2="434.20" y2="683.20" stroke="#666" stroke-width="0.75"/>
<line x1="436.70" y1="678.60" x2="436.70" y2="683.20" stroke="#666" stroke-width="0.75"/>
<line x1="439.20" y1="678.60" x2="439.20" y2="683.20" stroke="#666" stroke-width="0.75"/>
<line x1="441.70" y1="678.60" x2="441.70" y2="683.20" stroke="#666" stroke-width="0.75"/>
<line x1="444.20" y1="678.60" x2="444.20" y2="683.20" stroke="#666" stroke-width="0.75"/>
<line x1="446.70" y1="678.60" x2="446.70" y2="683.20" stroke="#666" stroke-width="0.75"/>
<line x1="449.20" y1="678.60" x2="449.20" y2="683.20" stroke="#666" stroke-width="0.75"/>
<line x1="451.70" y1="678.60" x2="451.70" y2="683.20" stroke="#666" stroke-width="0.75"/>
<line x1="454.20" y1="678.60" x2="454.20" y2="683.20" stroke="#666" stroke-width="0.75"/>
<circle cx="458.50" cy="680.90" r="0.85" fill="#e8e8e8" stroke="none" stroke-width="1"/>
<circle cx="396.60" cy="708.10" r="5.70" fill="#fff" stroke="#000" stroke-width="1.45"/>
<circle cx="396.60" cy="708.10" r="2.90" fill="#fff" stroke="#000" stroke-width="1.4"/>
<circle cx="396.60" cy="708.10" r="0.80" fill="#555" stroke="none" stroke-width="1"/>
<path d="M417.40,701.90 L418.60,701.90 Q419.90,701.90 419.90,703.30 L419.90,712.90 Q419.90,714.30 418.60,714.30 L417.40,714.30 Q414.00,713.70 414.00,708.10 Q414.00,702.50 417.40,701.90 Z" fill="#000"/>
<rect x="416.10" y="703.80" width="1.0" height="8.6" rx="0.5" fill="#888"/>
<rect x="419.60" y="705.30" width="5.2" height="5.6" fill="#fff" stroke="#000" stroke-width="1.15"/>
<path d="M424.60,705.50 L425.15,703.90 L426.05,703.90 L426.98,705.60 L427.53,703.90 L428.43,703.90 L429.36,705.60 L429.91,703.90 L430.81,703.90 L431.74,705.60 L432.29,703.90 L433.19,703.90 L434.12,705.60 L434.67,703.90 L435.57,703.90 L436.50,705.60 L437.05,703.90 L437.95,703.90 L438.88,705.60 L439.43,703.90 L440.33,703.90 L441.26,705.60 L441.81,703.90 L442.71,703.90 L443.64,705.60 L444.19,703.90 L445.09,703.90 L446.02,705.60 L446.57,703.90 L447.47,703.90 L448.40,705.60 L448.95,703.90 L449.85,703.90 L450.78,705.60 L451.33,704.42 L452.23,704.42 L453.16,706.12 L453.71,704.94 L454.61,704.94 L455.54,706.64 L456.09,705.46 L456.99,705.46 L457.92,707.16 L458.47,705.98 L459.37,705.98 L460.30,707.40 L460.85,706.50 L461.75,706.50 L462.68,707.40 L463.23,707.02 L464.13,707.02 L465.06,707.40 L466.60,708.10 L465.06,708.80 L464.13,709.18 L463.23,709.18 L462.68,708.80 L461.75,709.70 L460.85,709.70 L460.30,708.80 L459.37,710.22 L458.47,710.22 L457.92,709.04 L456.99,710.74 L456.09,710.74 L455.54,709.56 L454.61,711.26 L453.71,711.26 L453.16,710.08 L452.23,711.78 L451.33,711.78 L450.78,710.60 L449.85,712.30 L448.95,712.30 L448.40,710.60 L447.47,712.30 L446.57,712.30 L446.02,710.60 L445.09,712.30 L444.19,712.30 L443.64,710.60 L442.71,712.30 L441.81,712.30 L441.26,710.60 L440.33,712.30 L439.43,712.30 L438.88,710.60 L437.95,712.30 L437.05,712.30 L436.50,710.60 L435.57,712.30 L434.67,712.30 L434.12,710.60 L433.19,712.30 L432.29,712.30 L431.74,710.60 L430.81,712.30 L429.91,712.30 L429.36,710.60 L428.43,712.30 L427.53,712.30 L426.98,710.60 L426.05,712.30 L425.15,712.30 L424.60,710.70 Z" fill="#000"/>
<line x1="426.48" y1="706.60" x2="427.18" y2="709.60" stroke="#8a8a8a" stroke-width="0.6"/>
<line x1="428.86" y1="706.60" x2="429.56" y2="709.60" stroke="#8a8a8a" stroke-width="0.6"/>
<line x1="431.24" y1="706.60" x2="431.94" y2="709.60" stroke="#8a8a8a" stroke-width="0.6"/>
<line x1="433.62" y1="706.60" x2="434.32" y2="709.60" stroke="#8a8a8a" stroke-width="0.6"/>
<line x1="436.00" y1="706.60" x2="436.70" y2="709.60" stroke="#8a8a8a" stroke-width="0.6"/>
<line x1="438.38" y1="706.60" x2="439.08" y2="709.60" stroke="#8a8a8a" stroke-width="0.6"/>
<line x1="440.76" y1="706.60" x2="441.46" y2="709.60" stroke="#8a8a8a" stroke-width="0.6"/>
<line x1="443.14" y1="706.60" x2="443.84" y2="709.60" stroke="#8a8a8a" stroke-width="0.6"/>
<line x1="445.52" y1="706.60" x2="446.22" y2="709.60" stroke="#8a8a8a" stroke-width="0.6"/>
<line x1="447.90" y1="706.60" x2="448.60" y2="709.60" stroke="#8a8a8a" stroke-width="0.6"/>
<line x1="450.28" y1="706.60" x2="450.98" y2="709.60" stroke="#8a8a8a" stroke-width="0.6"/>
<circle cx="394.50" cy="786.00" r="5.70" fill="#fff" stroke="#000" stroke-width="1.45"/>
<path d="M390.60,786.90 q0,-2.8 2.9,-2.5 q1.5,-2.2 4,-0.7 q1.9,1.6 -0.1,3.2 q-2,0.2 -2.9,1.6 q-3.3,1.2 -3.9,-1.6 z" fill="#000"/>
<path d="M392.90,786.50 l2.6,-1.0" stroke="#555" stroke-width="0.5" fill="none"/>
<path d="M414.40,780.10 L416.80,780.10 Q417.60,780.10 417.60,781.00 L417.60,781.60 L420.00,782.90 L420.00,789.10 L417.60,790.40 L417.60,791.00 Q417.60,791.90 416.80,791.90 L414.40,791.90 Q413.40,791.90 413.40,790.90 L413.40,781.10 Q413.40,780.10 414.40,780.10 Z" fill="#000"/>
<rect x="414.90" y="781.60" width="0.9" height="8.8" fill="#666"/>
<rect x="419.60" y="783.30" width="7.2" height="5.4" fill="#fff" stroke="#000" stroke-width="1.2"/>
<path d="M426.30,782.40 L455.70,782.40 L462.60,786.00 L455.70,789.60 L426.30,789.60 Z" fill="#000"/>
<line x1="428.60" y1="783.70" x2="428.60" y2="788.30" stroke="#666" stroke-width="0.75"/>
<line x1="431.10" y1="783.70" x2="431.10" y2="788.30" stroke="#666" stroke-width="0.75"/>
<line x1="433.60" y1="783.70" x2="433.60" y2="788.30" stroke="#666" stroke-width="0.75"/>
<line x1="436.10" y1="783.70" x2="436.10" y2="788.30" stroke="#666" stroke-width="0.75"/>
<line x1="438.60" y1="783.70" x2="438.60" y2="788.30" stroke="#666" stroke-width="0.75"/>
<line x1="441.10" y1="783.70" x2="441.10" y2="788.30" stroke="#666" stroke-width="0.75"/>
<line x1="443.60" y1="783.70" x2="443.60" y2="788.30" stroke="#666" stroke-width="0.75"/>
<line x1="446.10" y1="783.70" x2="446.10" y2="788.30" stroke="#666" stroke-width="0.75"/>
<line x1="448.60" y1="783.70" x2="448.60" y2="788.30" stroke="#666" stroke-width="0.75"/>
<line x1="451.10" y1="783.70" x2="451.10" y2="788.30" stroke="#666" stroke-width="0.75"/>
<line x1="453.60" y1="783.70" x2="453.60" y2="788.30" stroke="#666" stroke-width="0.75"/>
<circle cx="457.90" cy="786.00" r="0.85" fill="#e8e8e8" stroke="none" stroke-width="1"/>
<circle cx="394.60" cy="813.10" r="5.70" fill="#fff" stroke="#000" stroke-width="1.45"/>
<circle cx="394.60" cy="813.10" r="2.90" fill="#fff" stroke="#000" stroke-width="1.4"/>
<circle cx="394.60" cy="813.10" r="0.80" fill="#555" stroke="none" stroke-width="1"/>
<path d="M417.10,806.90 L418.30,806.90 Q419.60,806.90 419.60,808.30 L419.60,817.90 Q419.60,819.30 418.30,819.30 L417.10,819.30 Q413.70,818.70 413.70,813.10 Q413.70,807.50 417.10,806.90 Z" fill="#000"/>
<rect x="415.80" y="808.80" width="1.0" height="8.6" rx="0.5" fill="#888"/>
<rect x="419.30" y="810.30" width="5.2" height="5.6" fill="#fff" stroke="#000" stroke-width="1.15"/>
<path d="M424.30,810.50 L424.85,808.90 L425.75,808.90 L426.68,810.60 L427.23,808.90 L428.13,808.90 L429.06,810.60 L429.61,808.90 L430.51,808.90 L431.44,810.60 L431.99,808.90 L432.89,808.90 L433.82,810.60 L434.37,808.90 L435.27,808.90 L436.20,810.60 L436.75,808.90 L437.65,808.90 L438.58,810.60 L439.13,808.90 L440.03,808.90 L440.96,810.60 L441.51,808.90 L442.41,808.90 L443.34,810.60 L443.89,808.90 L444.79,808.90 L445.72,810.60 L446.27,808.90 L447.17,808.90 L448.10,810.60 L448.65,808.90 L449.55,808.90 L450.48,810.60 L451.03,809.42 L451.93,809.42 L452.86,811.12 L453.41,809.94 L454.31,809.94 L455.24,811.64 L455.79,810.46 L456.69,810.46 L457.62,812.16 L458.17,810.98 L459.07,810.98 L460.00,812.40 L460.55,811.50 L461.45,811.50 L462.38,812.40 L462.93,812.02 L463.83,812.02 L464.76,812.40 L466.30,813.10 L464.76,813.80 L463.83,814.18 L462.93,814.18 L462.38,813.80 L461.45,814.70 L460.55,814.70 L460.00,813.80 L459.07,815.22 L458.17,815.22 L457.62,814.04 L456.69,815.74 L455.79,815.74 L455.24,814.56 L454.31,816.26 L453.41,816.26 L452.86,815.08 L451.93,816.78 L451.03,816.78 L450.48,815.60 L449.55,817.30 L448.65,817.30 L448.10,815.60 L447.17,817.30 L446.27,817.30 L445.72,815.60 L444.79,817.30 L443.89,817.30 L443.34,815.60 L442.41,817.30 L441.51,817.30 L440.96,815.60 L440.03,817.30 L439.13,817.30 L438.58,815.60 L437.65,817.30 L436.75,817.30 L436.20,815.60 L435.27,817.30 L434.37,817.30 L433.82,815.60 L432.89,817.30 L431.99,817.30 L431.44,815.60 L430.51,817.30 L429.61,817.30 L429.06,815.60 L428.13,817.30 L427.23,817.30 L426.68,815.60 L425.75,817.30 L424.85,817.30 L424.30,815.70 Z" fill="#000"/>
<line x1="426.18" y1="811.60" x2="426.88" y2="814.60" stroke="#8a8a8a" stroke-width="0.6"/>
<line x1="428.56" y1="811.60" x2="429.26" y2="814.60" stroke="#8a8a8a" stroke-width="0.6"/>
<line x1="430.94" y1="811.60" x2="431.64" y2="814.60" stroke="#8a8a8a" stroke-width="0.6"/>
<line x1="433.32" y1="811.60" x2="434.02" y2="814.60" stroke="#8a8a8a" stroke-width="0.6"/>
<line x1="435.70" y1="811.60" x2="436.40" y2="814.60" stroke="#8a8a8a" stroke-width="0.6"/>
<line x1="438.08" y1="811.60" x2="438.78" y2="814.60" stroke="#8a8a8a" stroke-width="0.6"/>
<line x1="440.46" y1="811.60" x2="441.16" y2="814.60" stroke="#8a8a8a" stroke-width="0.6"/>
<line x1="442.84" y1="811.60" x2="443.54" y2="814.60" stroke="#8a8a8a" stroke-width="0.6"/>
<line x1="445.22" y1="811.60" x2="445.92" y2="814.60" stroke="#8a8a8a" stroke-width="0.6"/>
<line x1="447.60" y1="811.60" x2="448.30" y2="814.60" stroke="#8a8a8a" stroke-width="0.6"/>
<line x1="449.98" y1="811.60" x2="450.68" y2="814.60" stroke="#8a8a8a" stroke-width="0.6"/>
</g>
</svg>
</body></html>
